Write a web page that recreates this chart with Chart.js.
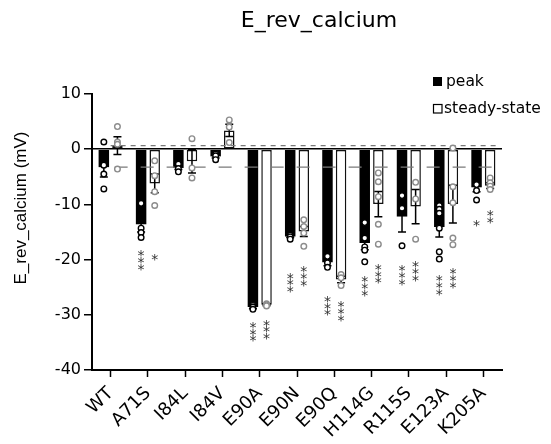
<!DOCTYPE html>
<html>
<head>
<meta charset="utf-8">
<script src="https://cdn.jsdelivr.net/npm/chart.js@4.4.0/dist/chart.umd.min.js"></script>
<style>
  html, body { margin: 0; padding: 0; background: #fff; }
</style>
</head>
<body>
<canvas id="erev" width="551" height="444"></canvas>
<script>
const mutants    = ['WT', 'A71S', 'I84L', 'I84V', 'E90A', 'E90N', 'E90Q', 'H114G', 'R115S', 'E123A', 'K205A'];
const peakMean   = [-3.25, -13.6, -3.4, -1.3, -28.6, -15.8, -20.5, -17.0, -12.2, -14.1, -6.9];
const steadyMean = [0.65, -6.2, -2.2, 3.4, -28.2, -14.9, -23.6, -9.95, -10.4, -9.95, -6.6];
const peakSem    = [1.8, 1.4, 0.3, 0.3, 0.3, 0.2, 0.6, 1.2, 2.8, 1.8, 0.8];
const steadySem  = [1.6, 1.7, 2.1, 1.1, 0.15, 0.9, 0.6, 2.3, 3.1, 3.4, 0.5];

// single recordings
const peakPoints = [
  [1.3, -2.9, -4.5, -7.2],
  [-9.8, -14.3, -15.1, -16.0],
  [-2.7, -3.5, -4.1],
  [-0.9, -1.2, -1.9],
  [-28.3, -28.6, -29.0],
  [-15.6, -15.9, -16.3],
  [-19.4, -20.6, -21.4],
  [-13.3, -16.1, -17.7, -18.3, -20.4],
  [-8.4, -10.7, -17.5],
  [-10.2, -10.9, -11.6, -14.3, -18.6, -19.9],
  [-6.4, -7.5, -9.2]
];
const steadyPoints = [
  [4.1, 1.3, 0.9, -3.6],
  [-2.1, -4.8, -7.7, -10.2],
  [1.9, -3.4, -5.2],
  [5.3, 4.0, 1.2],
  [-28.0, -28.2, -28.4],
  [-12.8, -14.0, -15.2, -17.6],
  [-22.7, -23.3, -24.7],
  [-4.3, -5.9, -8.6, -13.6, -17.2],
  [-6.0, -9.0, -16.3],
  [0.2, -6.8, -9.7, -16.1, -17.3],
  [-5.2, -6.1, -6.7, -7.3]
];

// significance vs WT
const peakStars    = ['', '***', '', '', '***', '***', '***', '***', '***', '***', '*'];
const steadyStars  = ['', '*', '', '', '***', '***', '***', '***', '***', '***', '**'];
const peakStarAt   = [0, -18.9, 0, 0, -31.9, -23.0, -27.2, -23.6, -21.7, -23.5, -13.4];
const steadyStarAt = [0, -19.6, 0, 0, -31.5, -21.8, -28.2, -21.4, -20.9, -22.2, -11.7];

const yTicks = [10, 0, -10, -20, -30, -40];

const FONT = 'DejaVu Sans';

const extras = {
  id: 'extras',
  afterDatasetsDraw(chart) {
    const ctx = chart.ctx;
    const y = chart.scales.y;
    const x = chart.scales.x;
    const area = chart.chartArea;

    ctx.save();
    // WT reference lines
    ctx.strokeStyle = '#7a7a7a';
    ctx.lineWidth = 1.3;
    ctx.setLineDash([5, 5]);
    let yy = y.getPixelForValue(steadyMean[0]);
    ctx.beginPath(); ctx.moveTo(x.getPixelForValue(0), yy); ctx.lineTo(area.right - 5, yy); ctx.stroke();
    ctx.setLineDash([13, 13]);
    yy = y.getPixelForValue(peakMean[0]);
    ctx.beginPath(); ctx.moveTo(x.getPixelForValue(0) + 4, yy); ctx.lineTo(area.right - 5, yy); ctx.stroke();
    ctx.setLineDash([]);

    const sets = [
      {idx: 0, mean: peakMean, sem: peakSem, pts: peakPoints, col: '#000', stars: peakStars, starAt: peakStarAt},
      {idx: 1, mean: steadyMean, sem: steadySem, pts: steadyPoints, col: '#8c8c8c', stars: steadyStars, starAt: steadyStarAt}
    ];
    sets.forEach(s => {
      const meta = chart.getDatasetMeta(s.idx);
      meta.data.forEach((bar, i) => {
        const bx = bar.x;
        // error bar
        const t = y.getPixelForValue(s.mean[i] + s.sem[i]);
        const b = y.getPixelForValue(s.mean[i] - s.sem[i]);
        ctx.strokeStyle = '#000';
        ctx.lineWidth = 1.5;
        ctx.beginPath();
        ctx.moveTo(bx, t); ctx.lineTo(bx, b);
        ctx.moveTo(bx - 4, t); ctx.lineTo(bx + 4, t);
        ctx.moveTo(bx - 4, b); ctx.lineTo(bx + 4, b);
        ctx.stroke();
        // points
        ctx.strokeStyle = s.col;
        ctx.fillStyle = '#fff';
        ctx.lineWidth = 1.4;
        s.pts[i].forEach(v => {
          ctx.beginPath();
          ctx.arc(bx, y.getPixelForValue(v), 2.8, 0, Math.PI * 2);
          ctx.fill();
          ctx.stroke();
        });
        // stars
        if (s.stars[i]) {
          ctx.fillStyle = '#333';
          ctx.font = '14px "' + FONT + '"';
          ctx.textAlign = 'center';
          ctx.textBaseline = 'alphabetic';
          const m = ctx.measureText('*');
          const off = (m.actualBoundingBoxAscent - m.actualBoundingBoxDescent) / 2;
          const c0 = y.getPixelForValue(s.starAt[i]);
          for (let k = 0; k < s.stars[i].length; k++) {
            ctx.fillText('*', bx, c0 + k * 6.8 + off);
          }
        }
      });
    });

    // title
    ctx.fillStyle = '#000';
    ctx.font = '22px "' + FONT + '"';
    ctx.textAlign = 'center';
    ctx.textBaseline = 'alphabetic';
    ctx.fillText('E_rev_calcium', 319, 27);

    // y axis title
    ctx.save();
    ctx.translate(21, 208);
    ctx.rotate(-Math.PI / 2);
    ctx.font = '17px "Liberation Sans"';
    ctx.textBaseline = 'middle';
    ctx.fillText('E_rev_calcium (mV)', 0, 0);
    ctx.restore();

    // legend
    ctx.fillStyle = '#000';
    ctx.fillRect(433, 77, 9, 9);
    ctx.fillStyle = '#fff';
    ctx.strokeStyle = '#000';
    ctx.lineWidth = 1.2;
    ctx.fillRect(433.5, 104.5, 8.5, 8.5);
    ctx.strokeRect(433.5, 104.5, 8.5, 8.5);
    ctx.fillStyle = '#000';
    ctx.font = '15.5px "' + FONT + '"';
    ctx.textAlign = 'left';
    ctx.textBaseline = 'middle';
    ctx.fillText(chart.data.datasets[0].label, 446, 81.5);
    ctx.fillText(chart.data.datasets[1].label, 444, 109);
    ctx.restore();
  }
};

new Chart(document.getElementById('erev'), {
  type: 'bar',
  data: {
    labels: mutants,
    datasets: [
      {
        label: 'peak',
        data: peakMean,
        backgroundColor: '#000',
        borderColor: '#000',
        borderWidth: 0,
        categoryPercentage: 0.73,
        barPercentage: 0.77
      },
      {
        label: 'steady-state',
        data: steadyMean,
        backgroundColor: '#fff',
        borderColor: '#111',
        borderWidth: 1.5,
        borderSkipped: false,
        categoryPercentage: 0.73,
        barPercentage: 0.77
      }
    ]
  },
  options: {
    responsive: false,
    animation: false,
    devicePixelRatio: 1,
    layout: { padding: { top: 94, right: 49, left: 0, bottom: 0 } },
    plugins: {
      legend: { display: false },
      title: { display: false },
      tooltip: { enabled: false }
    },
    scales: {
      x: {
        grid: { display: true, drawOnChartArea: false, offset: false, tickLength: 7, tickWidth: 1.5, tickColor: '#000' },
        border: { color: '#000', width: 2 },
        ticks: { minRotation: 45, maxRotation: 45, color: '#000', padding: 6, font: { family: FONT, size: 18 } },
        afterFit: s => { s.height = 74; }
      },
      y: {
        min: -40,
        max: 10,
        afterBuildTicks: s => { s.ticks = yTicks.map(v => ({ value: v })); },
        ticks: { color: '#000', padding: 3, font: { family: FONT, size: 16 } },
        grid: {
          color: c => (c.tick && c.tick.value === 0) ? '#000' : 'rgba(0,0,0,0)',
          lineWidth: 1.5,
          tickLength: 8,
          tickWidth: 1.5,
          tickColor: '#000'
        },
        border: { color: '#000', width: 2 },
        afterFit: s => { s.width = 92; }
      }
    }
  },
  plugins: [extras]
});
</script>
</body>
</html>
